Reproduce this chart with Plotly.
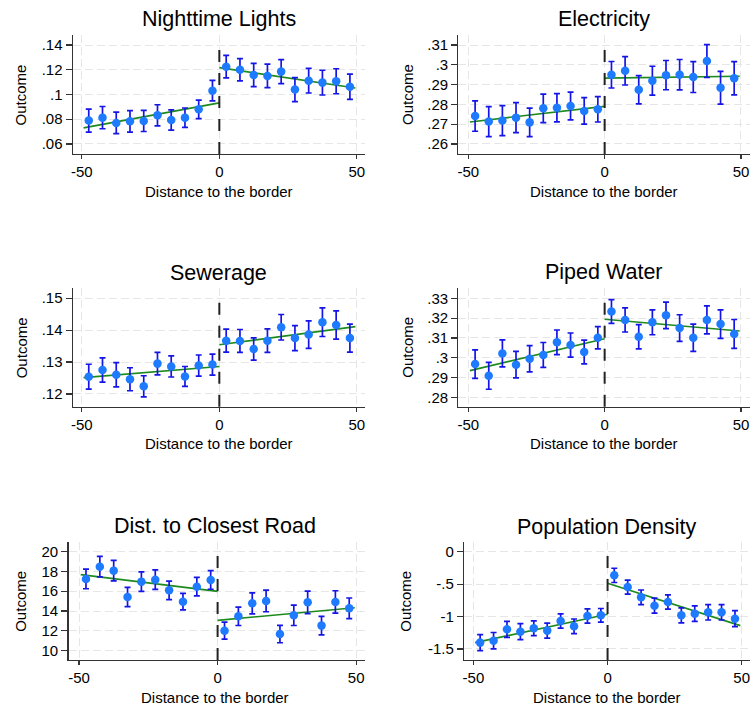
import plotly.graph_objects as go

W, H = 750, 710

# ---------------- data ----------------
bins = [-47.5, -42.5, -37.5, -32.5, -27.5, -22.5, -17.5, -12.5, -7.5, -2.5,
        2.5, 7.5, 12.5, 17.5, 22.5, 27.5, 32.5, 37.5, 42.5, 47.5]

titles = ["Nighttime Lights", "Electricity", "Sewerage", "Piped Water",
          "Dist. to Closest Road", "Population Density"]

lights_y = [.0789, .0813, .0770, .0783, .0786, .0832, .0794, .0813, .0880, .1031,
            .1225, .1200, .1158, .1150, .1185, .1040, .1112, .1096, .1107, .1063]
lights_ci = [.0093, .0090, .0087, .0087, .0085, .0085, .0082, .0078, .0075, .0083,
             .0091, .0090, .0094, .0095, .0097, .0097, .0100, .0100, .0101, .0102]
lights_fit_left = [.0730, .0932]
lights_fit_right = [.1217, .1053]

elec_y = [.2741, .2713, .2718, .2733, .2709, .2780, .2783, .2792, .2767, .2775,
          .2950, .2970, .2874, .2920, .2948, .2950, .2938, .3019, .2884, .2932]
elec_ci = [.0077, .0076, .0076, .0076, .0072, .0072, .0071, .0070, .0067, .0064,
           .0067, .0072, .0071, .0073, .0074, .0077, .0078, .0083, .0083, .0084]
elec_fit_left = [.2711, .2790]
elec_fit_right = [.2933, .2942]

sew_y = [.1254, .1275, .1260, .1246, .1224, .1295, .1286, .1255, .1289, .1292,
         .1367, .1366, .1341, .1367, .1409, .1375, .1386, .1425, .1416, .1375]
sew_ci = [.0039, .0038, .0038, .0036, .0033, .0035, .0033, .0031, .0033, .0033,
          .0036, .0036, .0035, .0037, .0040, .0039, .0043, .0045, .0044, .0044]
sew_fit_left = [.1251, .1286]
sew_fit_right = [.1354, .1411]

water_y = [.2968, .2909, .3022, .2965, .2995, .3014, .3078, .3064, .3029, .3101,
           .3233, .3191, .3106, .3179, .3214, .3150, .3101, .3191, .3170, .3120]
water_ci = [.0072, .0068, .0068, .0067, .0066, .0063, .0062, .0061, .0060, .0056,
            .0060, .0061, .0061, .0063, .0067, .0067, .0069, .0071, .0072, .0073]
water_fit_left = [.2935, .3096]
water_fit_right = [.3194, .3135]

road_y = [17.24, 18.48, 18.08, 15.42, 16.97, 17.17, 16.09, 14.95, 16.46, 17.14,
          12.02, 13.47, 14.78, 15.02, 11.68, 13.57, 14.88, 12.53, 14.92, 14.28]
road_ci = [.99, 1.04, 1.03, .98, .98, .98, .94, .84, .93, .94,
           .86, .93, 1.06, 1.09, .88, 1.03, 1.13, .93, 1.13, 1.04]
road_fit_left = [17.68, 15.99]
road_fit_right = [13.06, 14.34]

pop_y = [-1.402, -1.372, -1.197, -1.233, -1.181, -1.217, -1.068, -1.151, -.991, -.981,
         -.365, -.545, -.704, -.832, -.776, -.981, -.955, -.935, -.935, -1.033]
pop_ci = [.123, .126, .123, .123, .113, .116, .110, .113, .110, .105,
          .110, .108, .113, .116, .110, .116, .118, .118, .118, .123]
pop_fit_left = [-1.402, -.966]
pop_fit_right = [-.488, -1.14]

fit_x_left = [-49.4, 0]
fit_x_right = [0, 49.5]

x_ticks = [-50, 0, 50]
x_ticktext = ["-50", "0", "50"]

yt_lights = [.06, .08, .10, .12, .14]
yl_lights = [".06", ".08", ".1", ".12", ".14"]
yt_elec = [.26, .27, .28, .29, .30, .31]
yl_elec = [".26", ".27", ".28", ".29", ".3", ".31"]
yt_sew = [.12, .13, .14, .15]
yl_sew = [".12", ".13", ".14", ".15"]
yt_water = [.28, .29, .30, .31, .32, .33]
yl_water = [".28", ".29", ".3", ".31", ".32", ".33"]
yt_road = [10, 12, 14, 16, 18, 20]
yl_road = ["10", "12", "14", "16", "18", "20"]
yt_pop = [-1.5, -1, -.5, 0]
yl_pop = ["-1.5", "-1", "-.5", "0"]

series = [
    (lights_y, lights_ci, lights_fit_left, lights_fit_right, yt_lights, yl_lights),
    (elec_y, elec_ci, elec_fit_left, elec_fit_right, yt_elec, yl_elec),
    (sew_y, sew_ci, sew_fit_left, sew_fit_right, yt_sew, yl_sew),
    (water_y, water_ci, water_fit_left, water_fit_right, yt_water, yl_water),
    (road_y, road_ci, road_fit_left, road_fit_right, yt_road, yl_road),
    (pop_y, pop_ci, pop_fit_left, pop_fit_right, yt_pop, yl_pop),
]

# ---------------- layout geometry (pixels) ----------------
# (x_left, x_right, y_top, y_bottom, xrange, yrange, title_y, xtitle_y, ytitle_x)
geom = [
    (71, 364, 35, 154, [-53.3, 53.0], [.0519, .1481], 19, 191.5, 19),
    (457.7, 750, 35, 154, [-53.6, 53.3], [.2549, .3151], 19, 191.5, 406.5),
    (71, 364, 288, 406.7, [-53.3, 53.0], [.1160, .1532], 273, 443.5, 19),
    (457.7, 750, 288, 406.7, [-53.6, 53.3], [.2753, .3352], 272, 443.5, 406.5),
    (66.7, 364, 541.7, 660, [-53.8, 53.2], [9.06, 21.0], 526, 697.5, 19),
    (463.3, 750, 541.7, 660, [-53.5, 53.1], [-1.67, .154], 526.5, 697.5, 405),
]

FONT = "Liberation Sans, Arial, sans-serif"
MARK = "#1e7bff"
ERR = "#1414e6"
FIT = "#1d8a1d"
GRID = "#e6e6e6"
AX = "#333333"
TXT = "#000000"

fig = go.Figure()
layout = dict(
    width=W, height=H, margin=dict(l=0, r=0, t=0, b=0),
    paper_bgcolor="white", plot_bgcolor="white", showlegend=False,
    font=dict(family=FONT, size=15, color=TXT),
)
annotations = []
shapes = []

for i, ((yv, ci, fl, fr, yt, yl), g) in enumerate(zip(series, geom)):
    n = i + 1
    xa = "x" if n == 1 else f"x{n}"
    ya = "y" if n == 1 else f"y{n}"
    xl, xr, yt_px, yb_px, xrng, yrng, ty, xty, ytx = g

    fig.add_trace(go.Scatter(
        x=fit_x_left, y=fl, mode="lines", line=dict(color=FIT, width=1.6),
        xaxis=xa, yaxis=ya, hoverinfo="skip"))
    fig.add_trace(go.Scatter(
        x=fit_x_right, y=fr, mode="lines", line=dict(color=FIT, width=1.6),
        xaxis=xa, yaxis=ya, hoverinfo="skip"))
    fig.add_trace(go.Scatter(
        x=bins, y=yv, mode="markers",
        marker=dict(color=MARK, size=8.5),
        error_y=dict(type="data", array=ci, visible=True, color=ERR,
                     thickness=1.7, width=3),
        xaxis=xa, yaxis=ya))

    common = dict(showline=True, linecolor=AX, linewidth=1.3, ticks="outside",
                  tickcolor=AX, tickwidth=1.2, zeroline=False,
                  showgrid=True, gridcolor=GRID, griddash="8px,4px", gridwidth=1,
                  tickfont=dict(family=FONT, size=15, color=TXT),
                  ticklabeloverflow="allow", fixedrange=True)
    layout["xaxis" + ("" if n == 1 else str(n))] = dict(
        domain=[xl / W, xr / W], range=xrng, anchor=ya, ticklen=4,
        tickmode="array", tickvals=x_ticks, ticktext=x_ticktext, **common)
    layout["yaxis" + ("" if n == 1 else str(n))] = dict(
        domain=[1 - yb_px / H, 1 - yt_px / H], range=yrng, anchor=xa, ticklen=6,
        tickmode="array", tickvals=yt, ticktext=yl, **common)

    # dashed cutoff line at zero
    shapes.append(dict(type="line", xref=xa, yref=ya + " domain", x0=0, x1=0,
                       y0=0, y1=1 - 8.5 / (yb_px - yt_px),
                       line=dict(color="#222222", width=2, dash="12px,11px")))

    cx = (xl + min(xr, xl + 293)) / 2
    annotations.append(dict(text=titles[i], x=cx / W, y=1 - ty / H, xref="paper",
                            yref="paper", showarrow=False, xanchor="center",
                            yanchor="middle", font=dict(family=FONT, size=21.5,
                                                        color=TXT)))
    annotations.append(dict(text="Distance to the border", x=cx / W, y=1 - xty / H,
                            xref="paper", yref="paper", showarrow=False,
                            xanchor="center", yanchor="middle",
                            font=dict(family=FONT, size=15, color=TXT)))
    annotations.append(dict(text="Outcome", x=ytx / W, y=1 - (yt_px + yb_px) / 2 / H,
                            xref="paper", yref="paper", showarrow=False,
                            textangle=-90, xanchor="center", yanchor="middle",
                            font=dict(family=FONT, size=15, color=TXT)))

layout["annotations"] = annotations
layout["shapes"] = shapes
fig.update_layout(**layout)
fig.write_html(
    "out.html",
    config={"displayModeBar": False, "staticPlot": True},
    post_script="document.body.style.margin='0px';document.body.style.overflow='hidden';",
)
